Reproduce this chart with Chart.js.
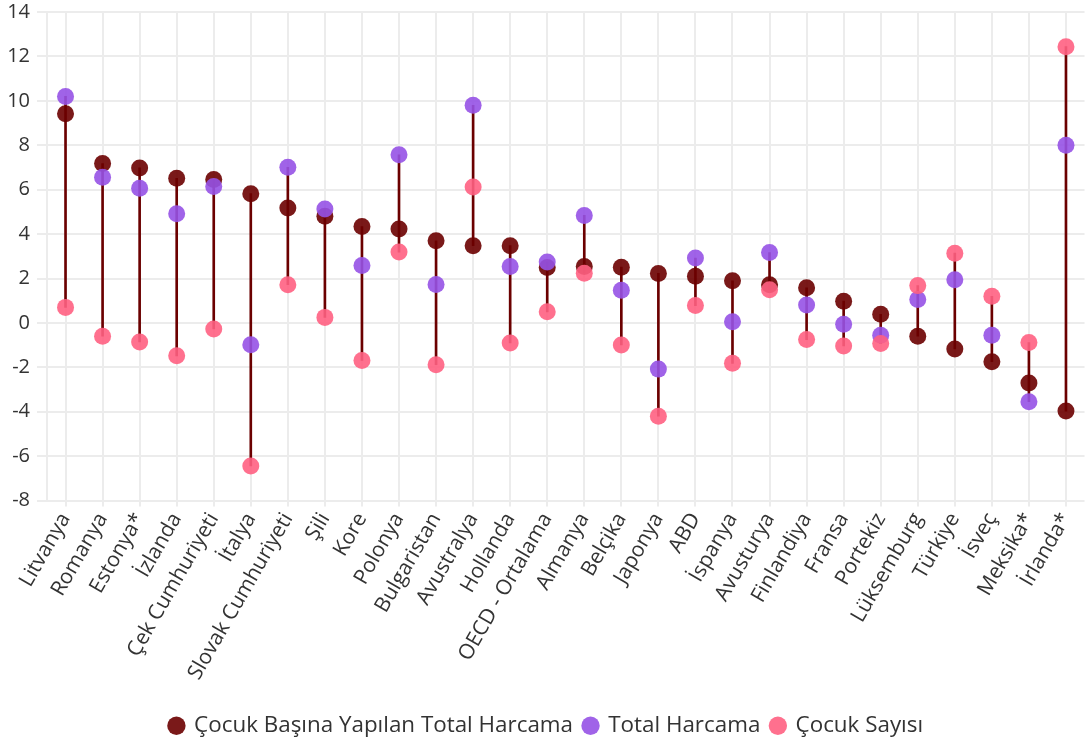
<!DOCTYPE html>
<html>
<head>
<meta charset="utf-8">
<script src="https://cdn.jsdelivr.net/npm/chart.js@4/dist/chart.umd.min.js"></script>
<style>
  html, body { margin: 0; padding: 0; background: #fff; overflow: hidden; }
  #wrap { position: relative; top: -7px; width: 1093px; height: 754px; }
</style>
</head>
<body>
<div id="wrap"><canvas id="c"></canvas></div>
<script>
const categories = ['Litvanya','Romanya','Estonya*','İzlanda','Çek Cumhuriyeti','İtalya','Slovak Cumhuriyeti','Şili','Kore','Polonya','Bulgaristan','Avustralya','Hollanda','OECD - Ortalama','Almanya','Belçika','Japonya','ABD','İspanya','Avusturya','Finlandiya','Fransa','Portekiz','Lüksemburg','Türkiye','İsveç','Meksika*','İrlanda*'];
const perChildSpending = [9.42,7.18,6.98,6.51,6.46,5.82,5.17,4.80,4.34,4.23,3.70,3.48,3.48,2.50,2.54,2.51,2.23,2.10,1.90,1.72,1.58,0.98,0.39,-0.60,-1.17,-1.75,-2.70,-3.97];
const totalSpending = [10.20,6.56,6.06,4.92,6.14,-0.98,7.01,5.13,2.59,7.57,1.73,9.80,2.54,2.74,4.84,1.47,-2.08,2.92,0.05,3.17,0.81,-0.06,-0.56,1.05,1.94,-0.56,-3.55,8.00];
const childCount = [0.70,-0.60,-0.86,-1.48,-0.27,-6.44,1.72,0.25,-1.69,3.19,-1.88,6.12,-0.90,0.50,2.24,-0.99,-4.20,0.78,-1.82,1.49,-0.75,-1.04,-0.93,1.68,3.14,1.20,-0.88,12.44];
const seriesNames = ['Çocuk Başına Yapılan Total Harcama','Total Harcama','Çocuk Sayısı'];
const yTicks = [-8,-6,-4,-2,0,2,4,6,8,10,12,14];

const stems = categories.map((_, i) => {
  const v = [perChildSpending[i], totalSpending[i], childCount[i]];
  return [Math.min(...v), Math.max(...v)];
});

const FONT = '"Open Sans"';
const TXT = '#333333';

new Chart(document.getElementById('c'), {
  data: {
    labels: categories,
    datasets: [
      { type: 'line', label: seriesNames[0], data: perChildSpending, showLine: false,
        backgroundColor: '#6b0000', pointBackgroundColor: 'rgba(107,0,0,0.9)', pointBorderWidth: 0,
        pointRadius: 8.5, pointHoverRadius: 8.5, order: 3 },
      { type: 'line', label: seriesNames[1], data: totalSpending, showLine: false,
        backgroundColor: '#9b59e6', pointBackgroundColor: 'rgba(150,82,230,0.9)', pointBorderWidth: 0,
        pointRadius: 8.5, pointHoverRadius: 8.5, order: 2 },
      { type: 'line', label: seriesNames[2], data: childCount, showLine: false,
        backgroundColor: '#ff6386', pointBackgroundColor: 'rgba(255,96,130,0.9)', pointBorderWidth: 0,
        pointRadius: 8.5, pointHoverRadius: 8.5, order: 1 },
      { type: 'bar', label: 'stem', data: stems, backgroundColor: '#6b0000',
        barThickness: 2, order: 4 }
    ]
  },
  options: {
    responsive: true,
    maintainAspectRatio: false,
    animation: false,
    layout: { padding: { top: 0, right: 0, bottom: 0, left: 0 } },
    plugins: {
      tooltip: { enabled: false },
      legend: {
        position: 'bottom',
        labels: {
          usePointStyle: true, pointStyle: 'circle', boxHeight: 13, boxWidth: 13,
          padding: 11, color: TXT, font: { family: FONT, size: 22.4 },
          filter: (item) => item.datasetIndex !== 3,
          sort: (a, b) => a.datasetIndex - b.datasetIndex
        }
      }
    },
    scales: {
      x: {
        type: 'category', offset: true,
        grid: { offset: false, color: '#ececec', lineWidth: 2, tickLength: 6, drawTicks: true },
        border: { display: false },
        ticks: { autoSkip: false, minRotation: 60, maxRotation: 60, color: TXT,
                 font: { family: FONT, size: 21 }, padding: 2 },
        afterFit: (s) => { s.height = 203; }
      },
      y: {
        min: -8, max: 14,
        afterBuildTicks: (s) => { s.ticks = yTicks.map(v => ({ value: v })); },
        grid: { color: '#ececec', lineWidth: 2, tickLength: 10 },
        border: { display: true, color: '#ececec', width: 2 },
        ticks: { color: TXT, font: { family: FONT, size: 20 }, padding: 7 },
        afterFit: (s) => { s.width = 47; }
      }
    }
  }
});
</script>
</body>
</html>
